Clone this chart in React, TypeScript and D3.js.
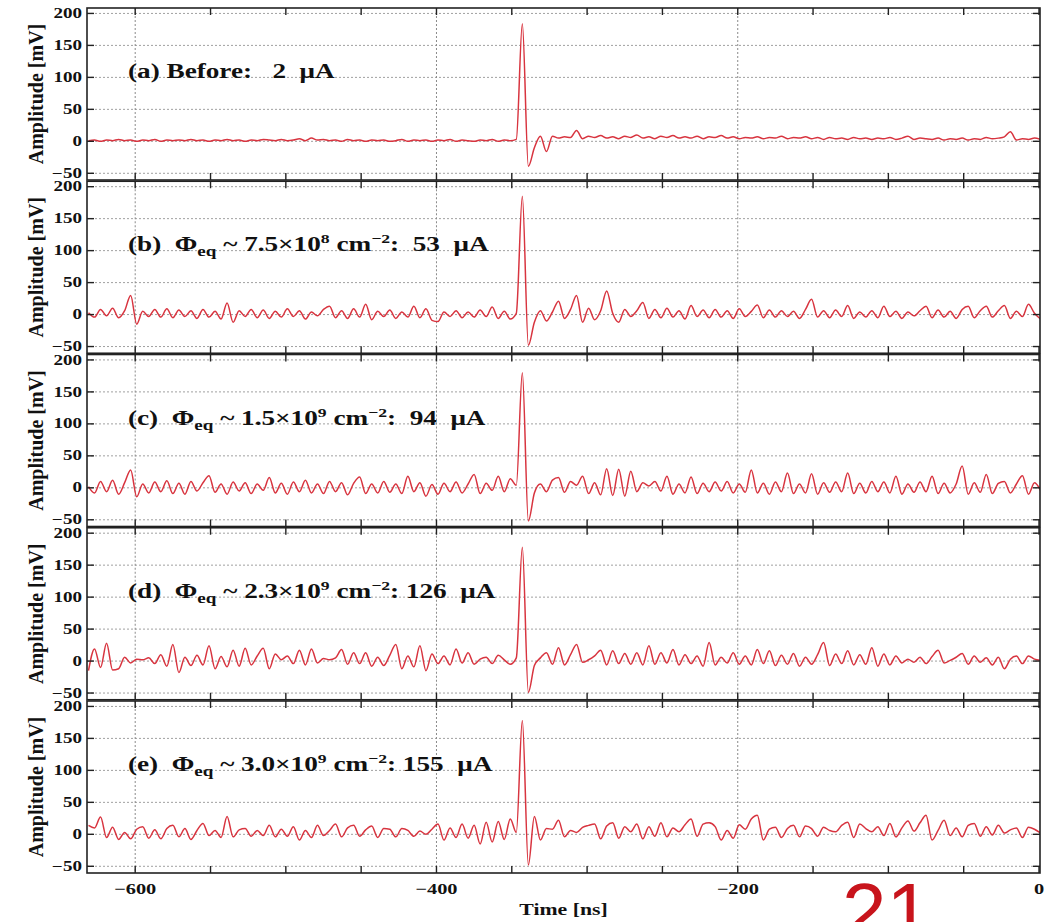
import React from 'react'
import * as d3 from 'd3'

// oscilloscope sampling: first sample time and step, both in ns
const T0 = -631
const DT = 4

const panelTags = ['(a)', '(b)', '(c)', '(d)', '(e)']
const fluences = ['', '7.5', '1.5', '2.3', '3.0']
const fluenceExps = ['', '8', '9', '9', '9']
const currents = ['2', '53', '94', '126', '155']

const yTicks = [-50, 0, 50, 100, 150, 200]
const xLabelTicks = [-600, -400, -200, 0]
const xGridTicks = [-600, -400, -200]
const xMinorTicks = [-600, -550, -500, -450, -400, -350, -300, -250, -200, -150, -100, -50, 0]

// amplitude [mV], one value per sample
const traceA = [
  1, 2, 0, 2, 1, 3, 1, 2, 0, 2,
  1, 3, 0, 2, 1, 2, 1, 3, 1, 2,
  0, 2, 1, 3, 1, 2, 0, 2, 1, 3,
  2, 1, 3, 1, 2, 4, 1, 5, 2, 3,
  1, 2, 0, 3, 1, 2, 0, 2, 1, 2,
  0, 1, 3, 0, 2, 1, 2, 0, 2, 1,
  3, 0, 2, 1, 0, 2, 1, 3, 0, 2,
  1, 3, 184, -39, -10, 8, -16, 8, 5, 7,
  6, 17, 4, 8, 6, 9, 5, 7, 4, 8,
  6, 10, 5, 7, 4, 8, 6, 9, 5, 7,
  5, 8, 4, 7, 6, 9, 5, 7, 4, 6,
  5, 7, 4, 6, 5, 8, 4, 6, 5, 7,
  4, 6, 3, 6, 4, 5, 3, 6, 4, 5,
  3, 5, 4, 6, 3, 5, 8, 3, 5, 4,
  3, 5, 2, 4, 3, 5, 2, 4, 3, 6,
  4, 5, 7, 15, 2, 4, 3, 5, 3,
]
const traceB = [
  3, -4, 8, -2, 10, -5, 6, 30, -15, 5,
  -3, 8, -4, 9, -5, 7, -3, 6, -6, 8,
  -4, 5, -7, 18, -12, 6, -3, 8, -5, 7,
  -6, 5, -4, 9, -3, 6, -7, 4, -2, 8,
  13, -5, 6, -6, 9, -4, 16, -8, 5, -3,
  7, -6, 4, -4, 13, -5, 9, -9, -11, 4,
  -3, 6, -5, 4, -4, 7, -3, 12, -6, 5,
  -7, 2, 185, -48, -12, 6, -10, 4, 21, -6,
  8, 30, -12, 10, -8, 6, 37, 2, -12, 8,
  -3, 6, 19, -6, 8, -5, 10, -4, 6, -7,
  14, -3, 7, -5, 8, -4, 6, -6, 9, -3,
  5, 15, -5, 7, -4, 6, -3, 5, -6, 8,
  24, -4, 6, -5, 7, -3, 14, -6, 4, -4,
  6, -5, 13, -3, 5, -6, 4, -2, 6, 13,
  -5, 7, -4, 5, -6, 8, 13, -5, 6, 13,
  -4, 6, 14, -6, 5, -3, 16, 2, -7,
]
const traceC = [
  2, -8, 10, -6, 12, -10, 8, 28, -14, 6,
  -8, 9, -6, 11, -9, 7, -10, 10, -5, 8,
  19, -7, 6, -10, 9, -5, 8, -9, 6, -4,
  16, -8, 7, -10, 9, -6, 12, -8, 6, -9,
  10, -6, 8, -11, 7, 17, -9, 6, -8, 10,
  -7, 6, -9, 18, -6, 8, -13, 5, -10, 7,
  -6, 9, -8, 6, 21, -9, 7, -4, 18, -6,
  14, 4, 180, -52, -8, 6, -6, 12, 16, -7,
  10, 4, 18, -9, 8, -11, 30, -12, 29, -13,
  26, -6, 8, 3, 10, -5, 18, -10, 6, -8,
  17, -9, 7, -6, 9, -5, 10, -8, 6, -7,
  28, -8, 7, -10, 9, -6, 23, -9, 6, -8,
  22, -10, 8, -7, 9, -6, 23, -9, 7, -8,
  10, -6, 9, -8, 18, -10, 6, -7, 9, -6,
  18, -9, 7, -8, 6, 34, -10, 8, -7, 21,
  -9, 7, 10, -8, 6, 19, -10, 8, -4,
]
const traceD = [
  -15, 19, -10, 28, -14, -12, 6, -3, 3, 2,
  5, -4, 10, -8, 26, -18, 6, -7, 9, -6,
  24, -12, 7, -9, 17, -8, 20, -6, 8, 20,
  -12, 11, 2, 8, -4, 17, -6, 19, -3, 4,
  2, 5, 18, -5, 13, -4, 13, -8, 6, -7,
  9, 26, -12, 8, -9, 24, -15, 11, -4, 8,
  -6, 19, -3, 13, -5, 3, 6, -4, 9, 2,
  -5, 5, 178, -49, -7, 5, 13, -5, 21, -6,
  10, 26, -2, 2, 8, 17, -6, 16, -4, 12,
  -5, 13, -6, 24, -5, 13, -3, 18, -6, 10,
  -4, 8, -8, 29, -6, 6, -3, 13, -5, 8,
  -6, 18, -4, 16, -7, 9, -5, 12, -8, 6,
  -5, 10, 29, -7, 11, -4, 16, -6, 10, -5,
  21, -8, 11, -6, 8, -3, 3, -2, 6, -4,
  7, 17, -3, 1, 6, 12, -5, 8, -2, 5,
  -6, 6, -12, 3, 8, -4, 8, 3, 1,
]
const traceE = [
  14, 10, 27, -5, 11, -8, 3, -7, 8, 12,
  -6, 7, -7, 9, 14, -4, 9, -8, 6, 17,
  -2, 6, -5, 28, -4, 7, 9, -3, 6, -2,
  14, -4, 8, -3, 12, -9, 6, -5, 14, -2,
  6, 16, -4, 10, 14, -3, 7, 13, -5, 9,
  8, -4, 9, 6, -3, 5, 0, 8, 16, -9,
  10, -5, 16, -6, 14, -15, 19, -12, 20, -8,
  24, 3, 178, -48, 28, -9, 9, 8, 22, -4,
  6, 3, 11, 14, 16, -7, 13, 18, -6, 12,
  4, 16, -7, 12, -3, 18, -4, 10, 4, 15,
  24, -3, 16, 18, 12, -9, 6, -6, 15, 8,
  24, 30, -9, 8, 11, -5, 9, 14, -4, 13,
  9, -3, 11, 6, 4, 14, 19, -5, 16, 9,
  4, 12, -2, 17, -4, 10, 21, 5, 18, 30,
  -9, 6, 22, -2, 10, -4, 14, 17, -3, 12,
  -1, 14, 2, 7, 10, -5, 11, 8, 2,
]
const traces = [traceA, traceB, traceC, traceD, traceE]

const W = 1051
const H = 922
const LEFT = 87
const RIGHT = 1040
const FIRST_TOP = 8
const PANEL_STEP = 173.25
const PANEL_H = 172
const SERIF = "'Liberation Serif', 'Times New Roman', serif"
const SX = 1.36 // glyphs in the figure are stretched sideways

function PanelLabel({ i }: { i: number }) {
  const pad = currents[i].length < 3 ? '  ' : ' '
  if (i === 0) {
    return (
      <text style={{ whiteSpace: 'pre' }}>{`${panelTags[i]} Before:   ${currents[i]}  \u03bcA`}</text>
    )
  }
  return (
    <text style={{ whiteSpace: 'pre' }}>
      <tspan>{`${panelTags[i]}  \u03a6`}</tspan>
      <tspan dy={5} fontSize={14}>eq</tspan>
      <tspan dy={-5}>{` ~ ${fluences[i]}\u00d710`}</tspan>
      <tspan dy={-8} fontSize={13}>{fluenceExps[i]}</tspan>
      <tspan dy={8}>{' cm'}</tspan>
      <tspan dy={-8} fontSize={13}>{'\u22122'}</tspan>
      <tspan dy={8}>{`:${pad}${currents[i]}  \u03bcA`}</tspan>
    </text>
  )
}

export default function App() {
  const x = d3.scaleLinear().domain([-632, 0.66]).range([LEFT, RIGHT])

  return (
    <svg width={W} height={H} style={{ position: 'absolute', left: 0, top: 0, background: '#fff' }}
      fontFamily={SERIF} fontWeight="bold">
      <defs>
        {traces.map((_, i) => {
          const top = FIRST_TOP + i * PANEL_STEP
          return (
            <clipPath id={`clip${i}`} key={i}>
              <rect x={LEFT} y={top} width={RIGHT - LEFT} height={PANEL_H} />
            </clipPath>
          )
        })}
      </defs>
      {traces.map((vals, i) => {
        const top = FIRST_TOP + i * PANEL_STEP
        const y = d3.scaleLinear().domain([-60.5, 208.5]).range([top + PANEL_H, top])
        const line = d3.line<number>()
          .x((_, k) => x(T0 + k * DT))
          .y(d => y(d))
          .curve(d3.curveMonotoneX)
        return (
          <g key={i}>
            {yTicks.map(t => (
              <line key={'gy' + t} x1={LEFT} x2={RIGHT} y1={y(t)} y2={y(t)}
                stroke="#a0a0a0" strokeWidth={1} strokeDasharray="2,2" />
            ))}
            {xGridTicks.map(t => (
              <line key={'gx' + t} x1={x(t)} x2={x(t)} y1={top} y2={top + PANEL_H}
                stroke="#8a8a8a" strokeWidth={1} strokeDasharray="2,2" />
            ))}
            <path d={line(vals) || ''} fill="none" stroke="#d8343f" strokeWidth={1.5}
              strokeLinejoin="round" clipPath={`url(#clip${i})`} />
            <rect x={LEFT} y={top} width={RIGHT - LEFT} height={PANEL_H}
              fill="none" stroke="#222" strokeWidth={1.6} />
            {xMinorTicks.map(t => (
              <g key={'tx' + t} stroke="#222" strokeWidth={1.4}>
                <line x1={x(t)} x2={x(t)} y1={top} y2={top + 7} />
                <line x1={x(t)} x2={x(t)} y1={top + PANEL_H} y2={top + PANEL_H - 7} />
              </g>
            ))}
            {yTicks.map(t => (
              <g key={'ty' + t} stroke="#222" strokeWidth={1.4}>
                <line x1={LEFT} x2={LEFT + 7} y1={y(t)} y2={y(t)} />
                <line x1={RIGHT} x2={RIGHT - 7} y1={y(t)} y2={y(t)} />
              </g>
            ))}
            {yTicks.map(t => (
              <g key={'ly' + t} transform={`translate(82,${y(t)}) scale(${SX},1)`}>
                <text textAnchor="end" dominantBaseline="central" fontSize={14} fill="#111">
                  {t < 0 ? '\u2212' + Math.abs(t) : t}
                </text>
              </g>
            ))}
            <text transform={`translate(42.5,${top + 86}) rotate(-90)`} textAnchor="middle"
              fontSize={20} fill="#111">Amplitude [mV]</text>
            <g transform={`translate(128,${top + 70}) scale(${SX},1)`} fontSize={20} fill="#111">
              <PanelLabel i={i} />
            </g>
          </g>
        )
      })}
      {xLabelTicks.map(t => (
        <g key={'lx' + t} transform={`translate(${x(t)},894) scale(${SX},1)`}>
          <text textAnchor="middle" fontSize={15} fill="#111">
            {t < 0 ? '\u2212' + Math.abs(t) : t}
          </text>
        </g>
      ))}
      <g transform={`translate(${(LEFT + RIGHT) / 2},915) scale(${SX},1)`}>
        <text textAnchor="middle" fontSize={16} fill="#111">Time [ns]</text>
      </g>
      <text x={842} y={939} fontFamily="'Liberation Sans', Arial, sans-serif" fontWeight="normal"
        fontSize={80} fill="#c8141c">21</text>
    </svg>
  )
}
